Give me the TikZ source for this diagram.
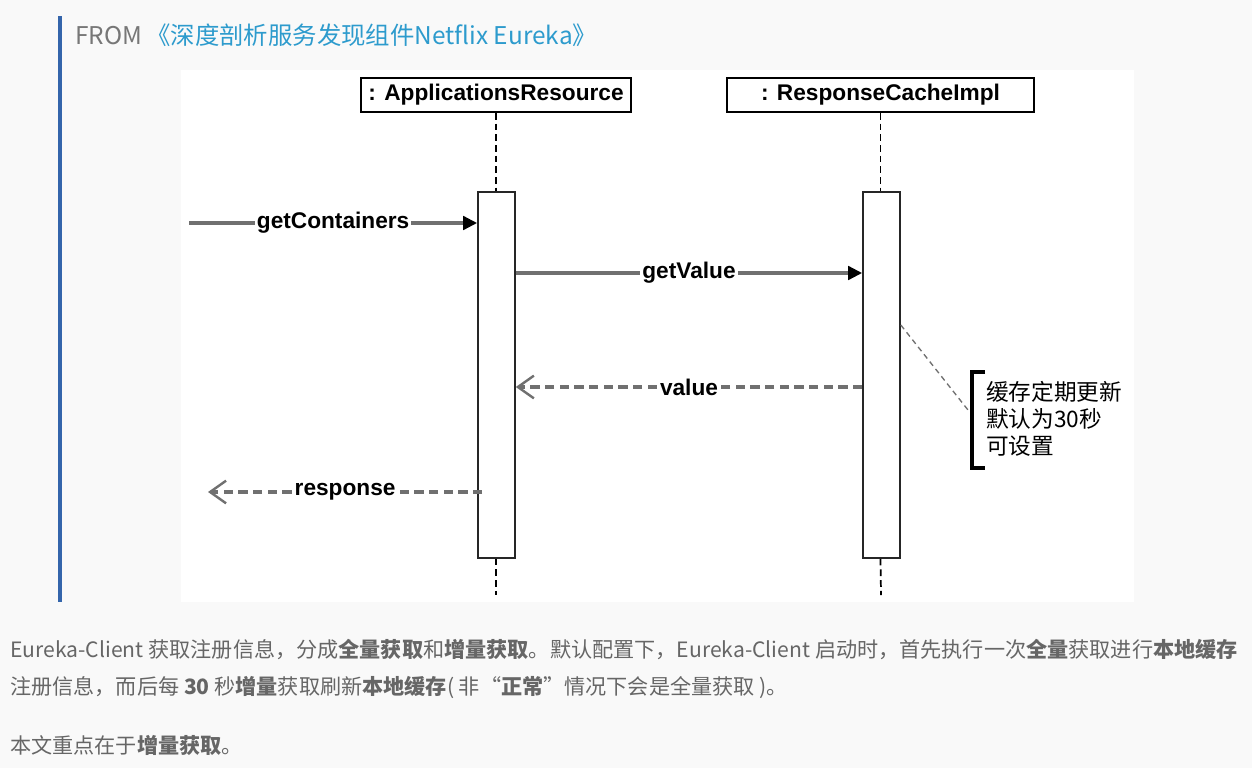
\documentclass[tikz,border=0pt]{standalone}
\usepackage{fontspec}
\setmainfont{Noto Sans CJK SC}
\newfontfamily\diagfont{Liberation Sans}
\newfontfamily\cjk{Noto Sans CJK SC}
\usepackage{tikz}
\usetikzlibrary{arrows.meta,positioning}

\definecolor{pagebg}{RGB}{249,249,249}
\definecolor{quotebar}{RGB}{52,101,171}
\definecolor{linkblue}{RGB}{45,155,205}
\definecolor{bodygray}{RGB}{102,102,102}
\definecolor{fromgray}{RGB}{119,119,119}
\definecolor{msggray}{RGB}{112,112,112}

\tikzset{
  lifebox/.style={draw=black,line width=1.6pt,fill=white,inner sep=0pt,minimum height=25.5pt,font=\diagfont\bfseries\fontsize{17}{20}\selectfont},
  actbar/.style={draw=black!85,line width=1.2pt,fill=white,minimum width=27.75pt,minimum height=274.5pt,inner sep=0pt},
  lifeline/.style={black,line width=1.3pt,dash pattern=on 5pt off 3pt},
  callmsg/.style={msggray,line width=2.8pt,-{Triangle[length=10.5pt,width=10pt,color=black]}},
  retmsg/.style={msggray,line width=2.8pt,dash pattern=on 7pt off 4pt,-{Straight Barb[length=12pt,width=17pt,line width=1.8pt]}},
  msglabel/.style={fill=white,inner sep=1.5pt,text=black,font=\diagfont\bfseries\fontsize{17}{20}\selectfont},
  notetext/.style={inner sep=0pt,align=left,text=black,font=\cjk\fontsize{17}{20.25}\selectfont},
  bodytext/.style={anchor=base west,inner sep=0pt,text=bodygray,font=\fontsize{15.85}{19}\selectfont},
}

\begin{document}
\begin{tikzpicture}[x=0.75pt,y=0.75pt,yscale=-1,xscale=1]
\useasboundingbox (0,0) rectangle (1252,768);

%page and quote block
\fill[pagebg] (0,0) rectangle (1252,768);
\fill[quotebar] (58,16) rectangle (62,602);
\fill[white] (181,70) rectangle (1134,602);

% Text Node
\node[anchor=base west,inner sep=0pt,text=fromgray,font=\fontsize{18.3}{22}\selectfont] (fromlbl) at (75,44) {FROM};
% Text Node
\node[anchor=base west,inner sep=0pt,text=linkblue,font=\fontsize{18.3}{22}\selectfont] (srclink) at (146,44) {《深度剖析服务发现组件Netflix Eureka》};

%lifelines
\node[lifebox,minimum width=202.5pt] (appres) at (496,95) {: ApplicationsResource};
\node[lifebox,minimum width=230.25pt] (respcache) at (880.5,95) {: ResponseCacheImpl};
\node[actbar] (act1) at (496.5,375) {};
\node[actbar] (act2) at (881.5,375) {};
\coordinate (end1) at (496,595);
\coordinate (end2) at (881,595);
\draw[lifeline] (appres.south) -- (appres.south |- act1.north);
\draw[lifeline] (act1.south -| appres.south) -- (end1);
\draw[lifeline] (respcache.south) -- (respcache.south |- act2.north);
\draw[lifeline] (act2.south -| respcache.south) -- (end2);

%messages
\coordinate (gcstart) at (189,223);
\coordinate (respend) at (208,492);
\draw[callmsg] (gcstart) -- node[msglabel] {getContainers} (act1.west |- gcstart);
\draw[callmsg] (act1.east |- 0,273) -- node[msglabel] {getValue} (act2.west |- 0,273);
\draw[retmsg] (act2.west |- 0,387) -- node[msglabel] {value} (act1.east |- 0,387);
\draw[retmsg] ([xshift=3.75pt]act1.west |- respend) -- node[msglabel] {response} (respend);

%note
\coordinate (brk) at (968,410);
\draw[msggray,line width=1pt,dash pattern=on 4pt off 3pt] (act2.east |- 0,325) -- (brk);
\draw[black,line width=3.5pt] (985,372) -- (972,372) -- (972,468) -- (985,468);
\node[notetext,anchor=west] (cachenote) at (986,419) {缓存定期更新\\默认为30秒\\可设置};

%body text
\node[bodytext] (para1) at (10,657) {Eureka-Client 获取注册信息，分成\textbf{全量获取}和\textbf{增量获取}。默认配置下，Eureka-Client 启动时，首先执行一次\textbf{全量}获取进行\textbf{本地缓存}};
\node[bodytext] (para2) at (10,694) {注册信息，而后每 \textbf{30} 秒\textbf{增量}获取刷新\textbf{本地缓存}( 非“\textbf{正常}”情况下会是全量获取 )。};
\node[bodytext] (para3) at (10,753) {本文重点在于\textbf{增量获取}。};

\end{tikzpicture}
\end{document}
